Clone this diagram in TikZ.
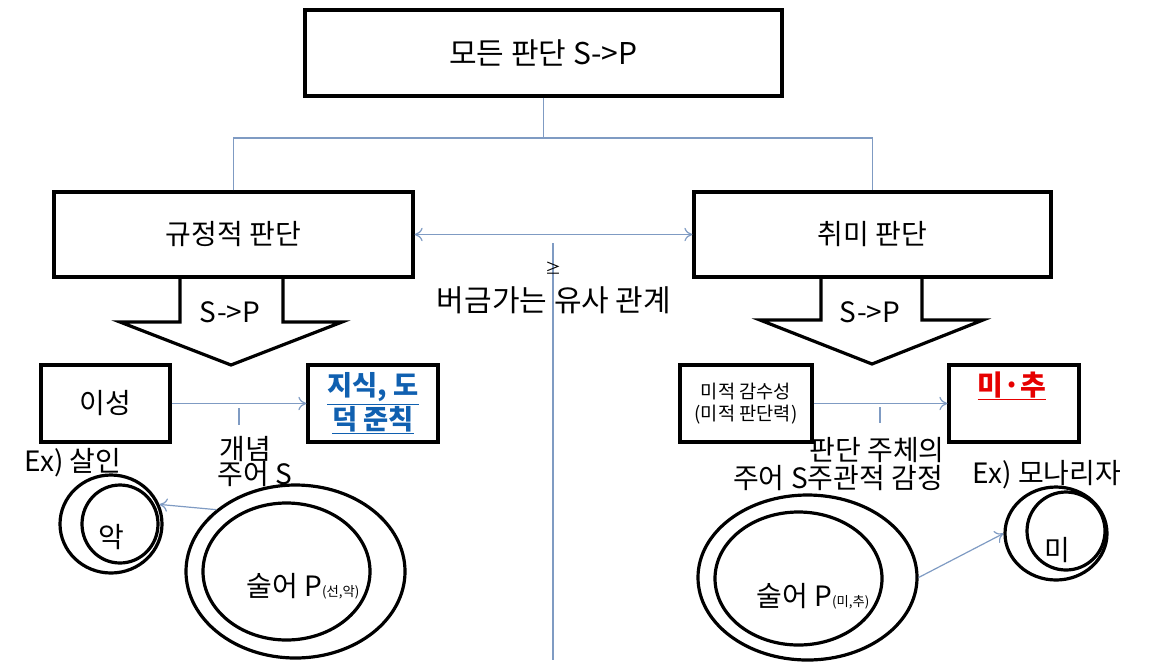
\documentclass[tikz,border=0pt]{standalone}
\usepackage{fontspec}
\setmainfont{Noto Sans CJK KR}
\usetikzlibrary{shapes.geometric,arrows.meta}
\definecolor{lb}{RGB}{127,155,195}
\definecolor{tblue}{RGB}{16,96,176}
\definecolor{tred}{RGB}{230,0,0}
\tikzset{
  box/.style={draw, line width=2.4pt, inner sep=0pt, align=center, font=\fontsize{21}{23}\selectfont},
  conn/.style={draw=lb, line width=0.9pt},
  arr/.style={conn, -{To[length=6pt,width=10pt]}},
  darr/.style={conn, {To[length=6pt,width=10pt]}-{To[length=6pt,width=10pt]}},
  txt/.style={inner sep=0pt, align=center, font=\fontsize{21}{23}\selectfont},
  ell/.style={draw, ellipse, line width=2.4pt, inner sep=0pt},
  blockarrow/.style={draw, line width=2.4pt, line join=miter},
}
\begin{document}
\begin{tikzpicture}[x=0.75pt,y=-0.75pt]
\useasboundingbox (0,0) rectangle (1152,665);

% boxes
\node[box, minimum width=357.75pt, minimum height=64.5pt, font=\fontsize{22.5}{24}\selectfont] (top) at (543.5,53) {모든 판단 S->P};
\node[box, minimum width=269.25pt, minimum height=63.75pt] (left) at (233.5,234.5) {규정적 판단};
\node[box, minimum width=267.75pt, minimum height=63.75pt] (right) at (872.5,234.5) {취미 판단};
\node[box, minimum width=96.75pt, minimum height=57.75pt] (iseong) at (105.5,403.5) {이성};
\node[box, minimum width=97.5pt, minimum height=57.75pt, text=tblue, font=\fontsize{20.5}{23}\selectfont\bfseries] (jisik) at (373,403.5) {\underline{지식, 도}\\\underline{덕 준칙}};
\node[box, minimum width=99pt, minimum height=57.75pt, font=\fontsize{14}{16.5}\selectfont] (gamsu) at (746,403.5) {미적 감수성\\(미적 판단력)};
\node[box, minimum width=97.5pt, minimum height=57.75pt] (michu) at (1014,403.5) {};
\node[txt, text=tred, font=\fontsize{21}{22}\selectfont\bfseries] (michut) at (1012,386) {\underline{미·추}};

% hierarchy connectors
\coordinate (bar) at (543.5,138);
\draw[conn] (top.south) -- (bar);
\draw[conn] (left.north) |- (bar) -| (right.north);
\draw[darr] (left.east) -- (right.west);

% vertical divider
\coordinate (vtop) at (553,243);
\coordinate (vbot) at (553,660);
\draw[conn] (vtop) -- (vbot);
\node[inner sep=0pt, font=\fontsize{12}{12}\selectfont] (geq) at (553,268) {≥};
\node[txt, font=\fontsize{22.5}{24}\selectfont] (rel) at (554,300) {버금가는 유사 관계};

% block arrows
\draw[blockarrow] (180,277) -- (180,322) -- (120,322) -- (231,365) -- (342,322) -- (283,322) -- (283,277);
\node[txt] (spl) at (230,312) {S->P};
\draw[blockarrow] (821,277) -- (821,320) -- (760,320) -- (872,364) -- (983,320) -- (922,320) -- (922,277);
\node[txt] (spr) at (870,312) {S->P};

% horizontal arrows
\draw[arr] (iseong.east) -- (jisik.west);
\draw[arr] (gamsu.east) -- (michu.west);
\coordinate (tl1) at (239,408); \coordinate (tl2) at (239,425);
\draw[conn] (tl1) -- (tl2);
\coordinate (tr1) at (880,407); \coordinate (tr2) at (880,423);
\draw[conn] (tr1) -- (tr2);

% labels
\node[txt] (gaenyeom) at (245,449) {개념};
\node[txt] (subjL) at (255,474) {주어 S};
\node[txt] (pandan) at (877,450) {판단 주체의};
\node[txt] (subjR) at (838,478) {주어 S주관적 감정};
\node[txt] (exL) at (73,463) {Ex) 살인};
\node[txt] (exR) at (1047,475) {Ex) 모나리자};

% ellipses left
\node[ell, minimum width=164.25pt, minimum height=129.75pt] (bigLo) at (295.5,571.5) {};
\node[ell, minimum width=125.25pt, minimum height=102.75pt] (bigLi) at (286.5,571.5) {};
\node[txt] (predL) at (303,586) {술어 P{\fontsize{10}{10}\selectfont(선,악)}};
\node[ell, minimum width=76.5pt, minimum height=73.5pt] (smLo) at (111,524) {};
\node[ell, minimum width=57pt, minimum height=58.5pt] (smLi) at (120,524) {};
\node[txt] (ak) at (111,537) {악};
\draw[arr] (bigLo.142) -- (smLo.22);

% ellipses right
\node[ell, minimum width=164.25pt, minimum height=123.75pt] (bigRo) at (807.5,577.5) {};
\node[ell, minimum width=125.25pt, minimum height=99.75pt] (bigRi) at (798.5,578.5) {};
\node[txt] (predR) at (813,596) {술어 P{\fontsize{10}{10}\selectfont(미,추)}};
\node[ell, minimum width=76.5pt, minimum height=69.75pt] (smRo) at (1056,533.5) {};
\node[ell, minimum width=58.5pt, minimum height=58.5pt] (smRi) at (1066,531) {};
\node[txt] (mi) at (1057,550) {미};
\draw[arr] (bigRo.0) -- (smRo.180);
\end{tikzpicture}
\end{document}
